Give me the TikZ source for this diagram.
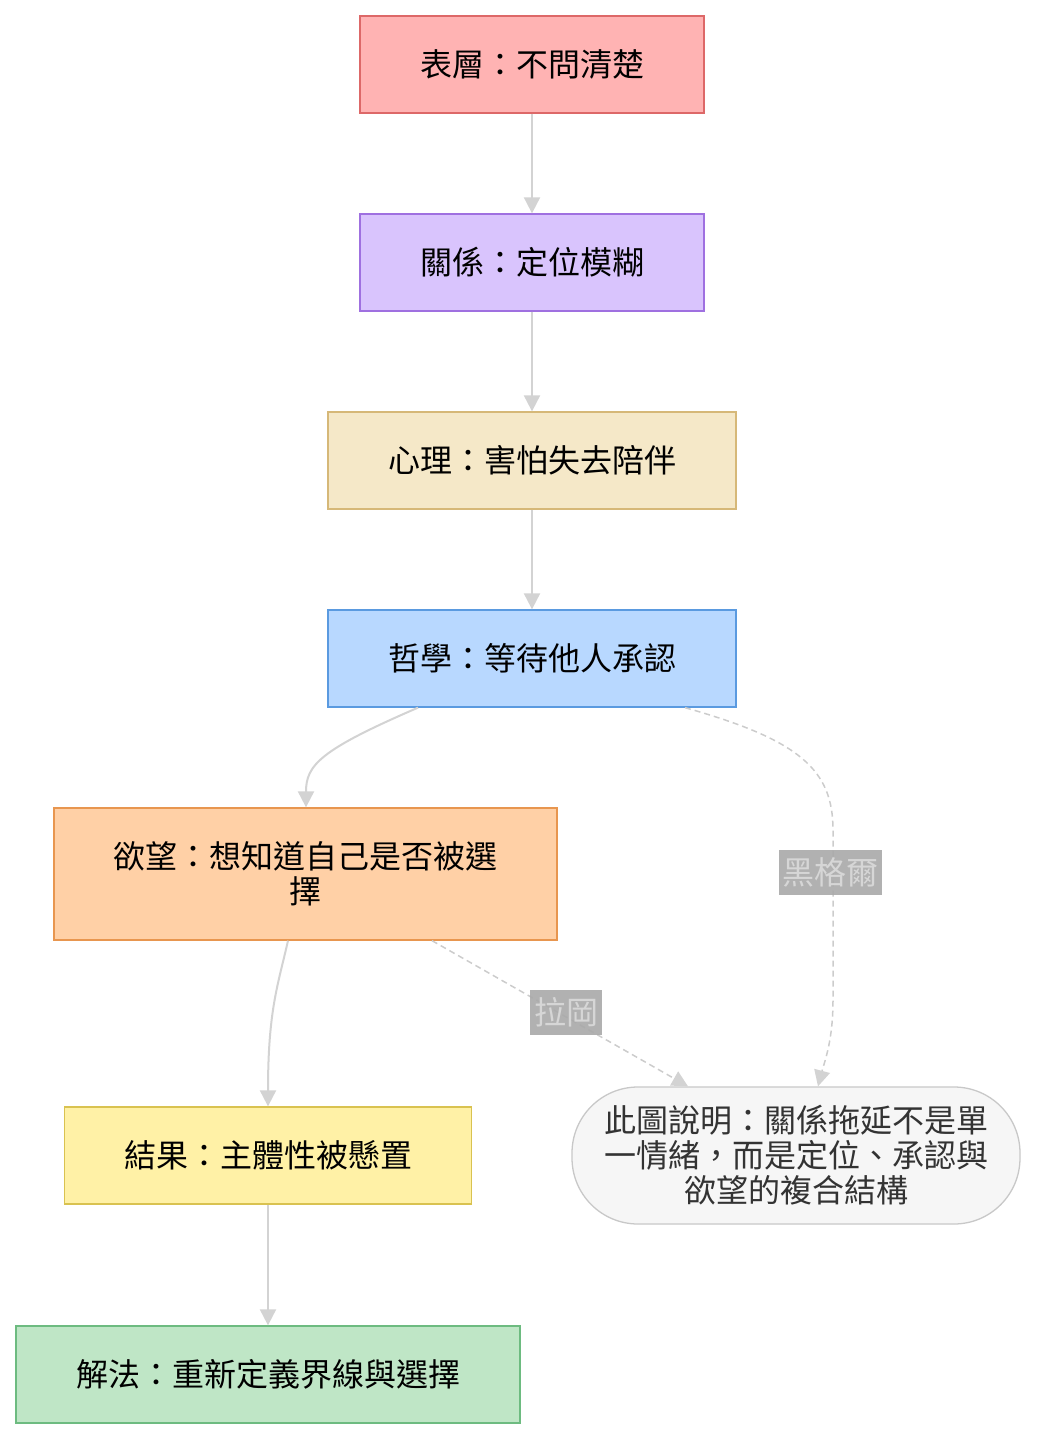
\documentclass[tikz,border=0pt]{standalone}
\usepackage{fontspec}
\setmainfont{Noto Sans CJK TC}
\usetikzlibrary{arrows.meta}
\definecolor{edgec}{HTML}{D3D3D3}
\definecolor{dashc}{HTML}{CCCCCC}
\definecolor{f1}{HTML}{FFB3B3}\definecolor{d1}{HTML}{DD6868}
\definecolor{f2}{HTML}{D9C4FD}\definecolor{d2}{HTML}{9F70E0}
\definecolor{f3}{HTML}{F5E8C8}\definecolor{d3}{HTML}{D6B878}
\definecolor{f4}{HTML}{B8D8FF}\definecolor{d4}{HTML}{5A9AE0}
\definecolor{f5}{HTML}{FFD0A6}\definecolor{d5}{HTML}{E8964F}
\definecolor{f6}{HTML}{FFF1A6}\definecolor{d6}{HTML}{D9C250}
\definecolor{f7}{HTML}{BFE6C6}\definecolor{d7}{HTML}{6DBB80}
\definecolor{fn}{HTML}{F6F6F6}\definecolor{dn}{HTML}{C8C8C8}
\definecolor{tn}{HTML}{333333}
\definecolor{lblf}{HTML}{A9A9A9}\definecolor{lblt}{HTML}{D6D6D6}
\tikzset{
  box/.style={draw, line width=1.3pt, minimum height=97pt, align=center,
    font=\fontsize{32}{35}\selectfont, inner sep=0pt, text=black},
  edge/.style={draw=edgec, line width=2pt, -{Triangle[width=16pt,length=16pt]}},
  dedge/.style={draw=dashc, line width=1.5pt, dash pattern=on 6pt off 4pt,
    -{Triangle[width=16pt,length=16pt,color=edgec,fill=edgec]}},
  lbl/.style={fill=lblf, fill opacity=0.9, text opacity=1, text=lblt,
    font=\fontsize{32}{35}\selectfont, inner sep=0pt, minimum height=45pt}
}
\begin{document}
\begin{tikzpicture}[x=1pt,y=-1pt]
\useasboundingbox (0,0) rectangle (1037,1440);
\node[box, fill=f1, draw=d1, minimum width=344pt] (n1) at (532,64.5) {表層：不問清楚};
\node[box, fill=f2, draw=d2, minimum width=344pt] (n2) at (532,262.5) {關係：定位模糊};
\node[box, fill=f3, draw=d3, minimum width=408pt] (n3) at (532,460.5) {心理：害怕失去陪伴};
\node[box, fill=f4, draw=d4, minimum width=408pt] (n4) at (532,658.5) {哲學：等待他人承認};
\node[box, fill=f5, draw=d5, minimum width=503pt, minimum height=132pt] (n5) at (305.5,874) {欲望：想知道自己是否被選\\擇};
\node[box, fill=f6, draw=d6, minimum width=407pt] (n6) at (268,1155.5) {結果：主體性被懸置};
\node[box, fill=f7, draw=d7, minimum width=504pt] (n7) at (268,1374.5) {解法：重新定義界線與選擇};
\node[box, fill=fn, draw=dn, text=tn, minimum width=448pt, minimum height=137pt, rounded corners=66pt] (nt) at (796,1155.5) {此圖說明：關係拖延不是單\\一情緒，而是定位、承認與\\欲望的複合結構};

\draw[edge] (n1.south) -- (n2.north);
\draw[edge] (n2.south) -- (n3.north);
\draw[edge] (n3.south) -- (n4.north);
\draw[edge] ([xshift=-114pt]n4.south) .. controls (320,750) and (306,765) .. ([xshift=0.5pt]n5.north);
\draw[edge] ([xshift=-17.5pt]n5.south) .. controls (278,985) and (268,1010) .. (n6.north);
\draw[edge] (n6.south) -- (n7.north);
\draw[dedge] ([xshift=153pt]n4.south) .. controls (800,740) and (833,770) .. (833,830)
   -- (833,1000) .. controls (833,1040) and (825,1060) .. ([xshift=22pt]nt.north);
\draw[dedge] ([xshift=126.5pt]n5.south) -- ([xshift=-108pt]nt.north);
\node[lbl, minimum width=103pt] (l1) at (830.5,872.5) {黑格爾};
\node[lbl, minimum width=72pt] (l2) at (566,1012.5) {拉岡};
\end{tikzpicture}
\end{document}
